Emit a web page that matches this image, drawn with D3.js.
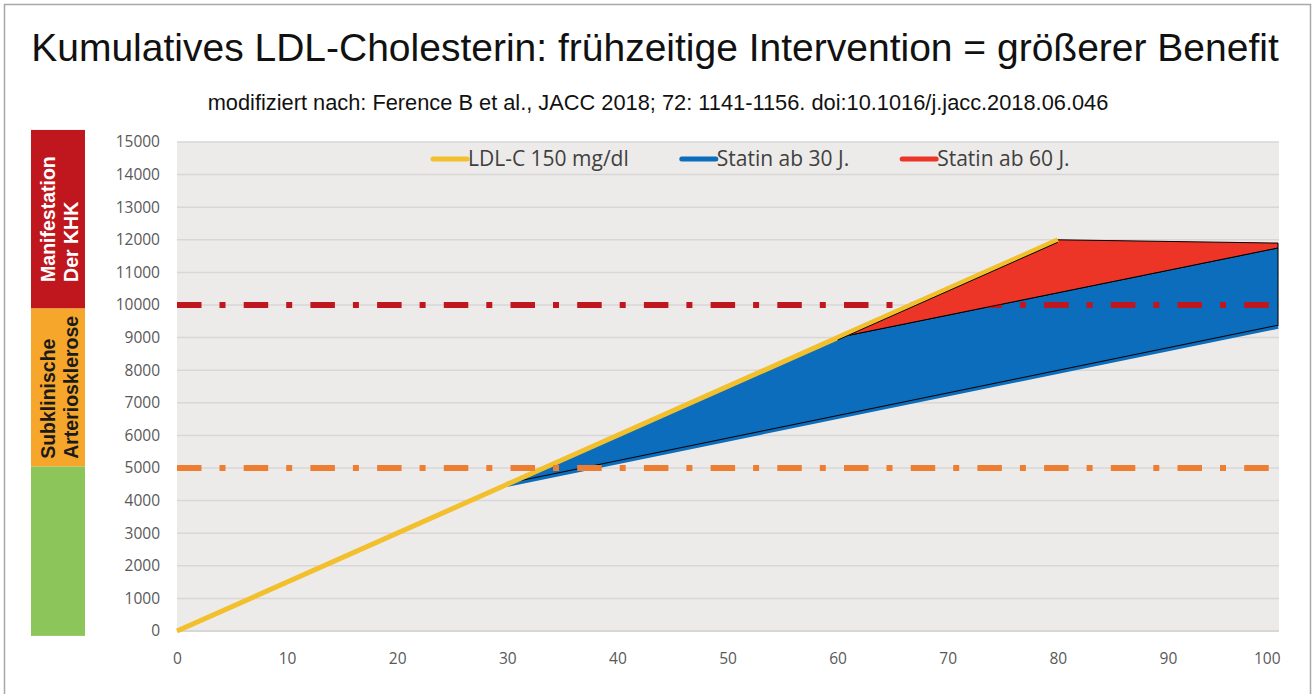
<!DOCTYPE html>
<html>
<head>
<meta charset="utf-8">
<script src="https://cdn.jsdelivr.net/npm/d3@7"></script>
<style>
  body { margin: 0; background: #fff; }
  svg { display: block; }
</style>
</head>
<body>
<svg id="chart" width="1313" height="694"></svg>
<script>
// ---- Daten ----
const ageTicks = [0, 10, 20, 30, 40, 50, 60, 70, 80, 90, 100];
const ldlTicks = [0, 1000, 2000, 3000, 4000, 5000, 6000, 7000, 8000, 9000, 10000, 11000, 12000, 13000, 14000, 15000];

// kumulatives LDL-C ohne Therapie (150 mg/dl)
const ldlAge = [0, 30, 60, 80];
const ldlValue = [0, 4500, 9000, 12000];
// Statin ab 30 J.
const statin30Age = [30, 100];
const statin30Value = [4500, 9350];
// Statin ab 60 J.
const statin60Age = [60, 100];
const statin60Value = [9000, 11750];
// oberer Rand nach 80 J.
const capAge = [80, 100];
const capValue = [12000, 11900];

const thresholdValue = [5000, 10000];
const thresholdColor = ['#ED7D31', '#C0161E'];

// Farbbalken links
const zoneLow = [-150, 5050, 9900];
const zoneHigh = [5050, 9900, 15370];
const zoneColor = ['#8CC65A', '#F6A62A', '#C0171F'];
const zoneText = [[], ['Subklinische', 'Arteriosklerose'], ['Manifestation', 'Der KHK']];
const zoneTextColor = ['#fff', '#1a1a1a', '#fff'];

const legendLabel = ['LDL-C 150 mg/dl', 'Statin ab 30 J.', 'Statin ab 60 J.'];
const legendColor = ['#F2C02C', '#0B6DBB', '#EC3427'];

// ---- Aufbau ----
const svg = d3.select('#chart');
const x = d3.scaleLinear().domain([0, 100]).range([177, 1278]);
const y = d3.scaleLinear().domain([0, 15000]).range([631, 142]);
const pts = (ages, vals) => ages.map((a, i) => [a, vals[i]]);
const line = d3.line().x(d => x(d[0])).y(d => y(d[1]));

// Rahmen
svg.append('rect').attr('x', 4.5).attr('y', 4.5).attr('width', 1306).attr('height', 700)
  .attr('fill', '#fff').attr('stroke', '#a8a8a8').attr('stroke-width', 1.5);

// Titel
svg.append('text').attr('x', 655).attr('y', 61).attr('text-anchor', 'middle')
  .attr('font-family', 'Liberation Sans, Arial, sans-serif').attr('font-size', 39)
  .attr('fill', '#111')
  .text('Kumulatives LDL-Cholesterin: frühzeitige Intervention = größerer Benefit');
svg.append('text').attr('x', 658).attr('y', 110).attr('text-anchor', 'middle')
  .attr('font-family', 'Liberation Sans, Arial, sans-serif').attr('font-size', 21.8)
  .attr('fill', '#111')
  .text('modifiziert nach: Ference B et al., JACC 2018; 72: 1141-1156. doi:10.1016/j.jacc.2018.06.046');

// Plotfläche
svg.append('rect').attr('x', x(0)).attr('y', y(15000))
  .attr('width', x(100) - x(0) + 1).attr('height', y(0) - y(15000) + 1)
  .attr('fill', '#EDEBE9');

// Gitterlinien
svg.append('g').selectAll('line').data(ldlTicks).join('line')
  .attr('x1', x(0)).attr('x2', x(100) + 1)
  .attr('y1', d => y(d)).attr('y2', d => y(d))
  .attr('stroke', d => d === 0 ? '#d2cfcf' : '#d9d6d6').attr('stroke-width', 1.5);

// Achsen
const tickFont = 'Open Sans, Lato, sans-serif';
const yAxis = svg.append('g').attr('transform', `translate(${x(0)},0)`)
  .call(d3.axisLeft(y).tickValues(ldlTicks).tickSize(0).tickPadding(17).tickFormat(d3.format('d')));
const xAxis = svg.append('g').attr('transform', `translate(0,${y(0)})`)
  .call(d3.axisBottom(x).tickValues(ageTicks).tickSize(0).tickPadding(22).tickFormat(d3.format('d')));
[yAxis, xAxis].forEach(a => {
  a.select('.domain').remove();
  a.selectAll('text').attr('font-family', tickFont).attr('font-size', 15.5).attr('fill', '#595959');
});
xAxis.selectAll('text').filter(d => d === 100).attr('text-anchor', 'end').attr('dx', 2);

// Flächen
const lowerBlue = pts(statin30Age, statin30Value);
const upperBlue = pts(ldlAge, ldlValue).filter(d => d[0] >= 30 && d[0] <= 60)
  .concat(pts(statin60Age, statin60Value).slice(1));
const bluePoly = upperBlue.concat(lowerBlue.slice().reverse());
const redTop = pts(ldlAge, ldlValue).filter(d => d[0] >= 60).concat(pts(capAge, capValue).slice(1));
const redPoly = redTop.concat(pts(statin60Age, statin60Value).reverse());

svg.append('path').attr('d', line(bluePoly) + 'Z')
  .attr('fill', legendColor[1]).attr('stroke', '#000').attr('stroke-width', 1);

// Grenzlinie 10000 unter der roten Fläche
const dash = '24.5 18 6 18.2';
svg.append('line').attr('x1', x(0)).attr('x2', x(100))
  .attr('y1', y(thresholdValue[1])).attr('y2', y(thresholdValue[1]))
  .attr('stroke', thresholdColor[1]).attr('stroke-width', 6).attr('stroke-dasharray', dash);

svg.append('path').attr('d', line(redPoly) + 'Z')
  .attr('fill', legendColor[2]).attr('stroke', '#000').attr('stroke-width', 1);

// Statin-ab-30-Linie
svg.append('path').attr('d', line(lowerBlue)).attr('fill', 'none')
  .attr('stroke', legendColor[1]).attr('stroke-width', 5);
svg.append('path').attr('d', line(lowerBlue)).attr('fill', 'none')
  .attr('stroke', '#000').attr('stroke-width', 1).attr('transform', 'translate(0,-1)');

// LDL-C Linie
svg.append('path').attr('d', line(pts(ldlAge, ldlValue))).attr('fill', 'none')
  .attr('stroke', legendColor[0]).attr('stroke-width', 5).attr('stroke-linecap', 'butt');
// schwarze Kante unter der gelben Linie
svg.append('path').attr('d', line(pts(ldlAge, ldlValue).filter(d => d[0] >= 30).slice(1)))
  .attr('fill', 'none').attr('stroke', '#000').attr('stroke-width', 1).attr('transform', 'translate(0,2.5)');

// Grenzlinie 5000
svg.append('line').attr('x1', x(0)).attr('x2', x(100))
  .attr('y1', y(thresholdValue[0])).attr('y2', y(thresholdValue[0]))
  .attr('stroke', thresholdColor[0]).attr('stroke-width', 6).attr('stroke-dasharray', dash);

// Legende
const legend = svg.append('g').attr('font-family', tickFont).attr('font-size', 21).attr('fill', '#404040');
let cursor = 433;
legendLabel.forEach((label, i) => {
  legend.append('line').attr('x1', cursor).attr('x2', cursor + 34).attr('y1', 159).attr('y2', 159)
    .attr('stroke', legendColor[i]).attr('stroke-width', 5).attr('stroke-linecap', 'round');
  const t = legend.append('text').attr('x', cursor + 35).attr('y', 166).text(label);
  cursor += 35 + t.node().getComputedTextLength() + 53;
});

// Farbbalken links
const zones = svg.append('g');
zoneColor.forEach((c, i) => {
  const top = y(zoneHigh[i]), bottom = y(zoneLow[i]);
  zones.append('rect').attr('x', 31).attr('y', top).attr('width', 54).attr('height', bottom - top).attr('fill', c);
  if (!zoneText[i].length) return;
  const mid = (top + bottom) / 2;
  const tx = zones.append('text').attr('font-family', 'Liberation Sans, Arial, sans-serif')
    .attr('font-weight', 'bold').attr('font-size', 19.5).attr('fill', zoneTextColor[i]);
  const spans = zoneText[i].map(s => tx.append('tspan').text(s));
  const w = d3.max(spans, s => s.node().getComputedTextLength());
  spans.forEach((s, k) => s.attr('x', 0).attr('y', k * 23));
  tx.attr('transform', `translate(${55},${mid + w / 2}) rotate(-90)`);
});
</script>
</body>
</html>
